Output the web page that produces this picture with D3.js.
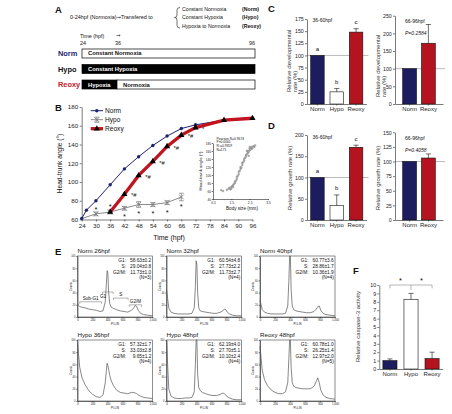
<!DOCTYPE html>
<html>
<head>
<meta charset="utf-8">
<script src="https://cdn.jsdelivr.net/npm/d3@7"></script>
<style>
  body { margin: 0; background: #fff; }
  svg { display: block; }
</style>
</head>
<body>
<svg id="fig" width="452" height="414"></svg>
<script>
// groups and colours
const groups = ["Norm", "Hypo", "Reoxy"]
const barFill = { Norm: "#1c1c5e", Hypo: "#ffffff", Reoxy: "#b3141f" }
const nameFill = { Norm: "#22266e", Hypo: "#111111", Reoxy: "#c3202b" }

// A - exposure schedule
const transferTo = ["Constant Normoxia", "Constant Hypoxia", "Hypoxia to Normoxia"]
const scheduleTicks = [24, 36, 96]
const scheduleRows = ["Norm", "Hypo", "Reoxy", "Reoxy"]
const scheduleFrom = [24, 24, 24, 36]
const scheduleTo = [96, 96, 36, 96]
const scheduleText = ["Constant Normoxia", "Constant  Hypoxia", "Hypoxia", "Normoxia"]
const scheduleHypoxic = [false, true, true, false]

// B - head-trunk angle (deg) vs time (hpf)
const hpfTicks = [24, 30, 36, 42, 48, 54, 60, 66, 72, 78, 84, 90, 96]
const angleTicks = [60, 80, 100, 120, 140, 160, 180]
const normHpf = [24, 26, 30, 36, 42, 48, 54, 60, 66, 72, 84, 96]
const normAngle = [61, 70, 80, 97, 114, 127, 139, 149, 157, 161, 166, 168]
const hypoHpf = [24, 30, 36, 42, 48, 54, 60, 66]
const hypoAngle = [61, 66, 68, 72, 76, 76, 78, 84]
const hypoSem = [0, 2, 2, 2, 3, 2, 2, 4]
const reoxyHpf = [36, 42, 48, 54, 60, 66, 72, 84, 96]
const reoxyAngle = [68, 87, 107, 122, 138, 150, 158, 166, 168]
const reoxySig = ["", "*#", "*#", "*#", "*#", "*#", "*", "", ""]
const hypoStarHpf = [30, 36, 42, 48, 54, 60, 66]
const hypoStarAngle = [72, 75, 64, 68, 68, 69, 75]

// B inset - angle vs body size
const sizeTicks = [0.5, 1.5, 2.5, 3.5]
const insetAngleTicks = [40, 60, 80, 100, 120, 140, 160, 180]
const bodySize = [0.95, 1.05, 1.25, 1.35, 1.4, 1.45, 1.5, 1.5, 1.55, 1.6, 1.6, 1.65, 1.7, 1.7, 1.75, 1.8, 1.8, 1.85, 1.9, 1.9, 1.95, 2.0, 2.0, 2.05, 2.1, 2.1, 2.15, 2.2, 2.2, 2.25, 2.3, 2.3, 2.35, 2.4, 2.4, 2.45, 2.5, 2.5, 2.55, 2.6, 2.6, 2.65, 2.7, 2.75, 2.8, 2.5, 2.35, 2.45]
const bodyAngle = [62, 60, 63, 66, 68, 64, 70, 66, 72, 75, 70, 78, 80, 84, 86, 90, 95, 98, 102, 108, 110, 115, 120, 118, 125, 130, 132, 136, 140, 143, 146, 150, 152, 155, 160, 158, 162, 166, 164, 168, 170, 166, 172, 170, 174, 170, 160, 148]
const corrText = ["Pearson R=0.9674", "P<0.0001", "R\u00b2=0.9359", "N=171"]

// C - relative developmental rate (%)
const devEarly = [100, 25, 148]
const devEarlyErr = [0, 7, 7]
const devLate = [100, 172]
const devLateErr = [0, 53]
const devEarlyTicks = [0, 25, 50, 75, 100, 125, 150, 175]
const devLateTicks = [0, 50, 100, 150, 200, 250]

// D - relative growth rate (%)
const growthEarly = [100, 34, 171]
const growthEarlyErr = [0, 25, 5]
const growthLate = [100, 106]
const growthLateErr = [0, 7]
const growthEarlyTicks = [0, 50, 100, 150, 200]
const growthLateTicks = [0, 25, 50, 75, 100, 125, 150]
const sigLetters = ["a", "b", "c"]

// E - cell cycle histograms
const piLin = [0, 15, 30, 60, 100, 150, 200, 250, 300, 340, 370, 385, 395, 405, 415, 430, 450, 480, 520, 570, 620, 670, 720, 750, 770, 790, 810, 840, 880, 930, 1000]
const piTicks = [0, 200, 400, 600, 800, 1000]
const countTicks = [0, 20, 40, 60, 80, 100]
const countsNorm26 = [22, 19, 17, 16, 15, 13, 12, 11, 9, 10, 25, 55, 76, 72, 40, 22, 16, 14, 12, 10, 9, 8, 11, 15, 19, 17, 11, 6, 4, 3, 2]
const countsNorm32 = [45, 30, 15, 8, 6, 5, 5, 5, 5, 6, 15, 50, 92, 86, 40, 15, 10, 9, 8, 7, 6, 6, 8, 10, 13, 12, 8, 5, 3, 2, 2]
const countsNorm40 = [28, 20, 12, 8, 6, 5, 5, 5, 5, 6, 18, 60, 115, 108, 45, 18, 12, 10, 9, 8, 7, 7, 9, 13, 17, 18, 11, 6, 4, 3, 2]
const countsHypo36 = [95, 75, 55, 38, 27, 17, 11, 7, 6, 10, 30, 50, 62, 58, 52, 42, 33, 25, 18, 14, 13, 12, 14, 14, 13, 12, 10, 8, 6, 5, 4]
const countsHypo48 = [110, 60, 20, 8, 5, 4, 4, 5, 5, 6, 15, 60, 115, 100, 45, 22, 17, 14, 12, 10, 9, 9, 11, 13, 12, 10, 7, 5, 3, 2, 2]
const countsReoxy48 = [90, 70, 50, 35, 25, 18, 14, 12, 12, 15, 30, 70, 115, 105, 55, 30, 24, 22, 21, 20, 20, 20, 24, 32, 38, 30, 18, 10, 6, 4, 3]
const cycleCounts = [countsNorm26, countsNorm32, countsNorm40, countsHypo36, countsHypo48, countsReoxy48]
const cycleTitle = ["Norm 26hpf", "Norm 32hpf", "Norm 40hpf", "Hypo 36hpf", "Hypo 48hpf", "Reoxy 48hpf"]
const cycleG1 = ["58.63\u00b10.2", "60.54\u00b14.8", "60.77\u00b13.6", "57.32\u00b11.7", "62.19\u00b14.0", "60.78\u00b11.0"]
const cycleS = ["29.04\u00b10.8", "27.73\u00b12.2", "28.86\u00b11.7", "33.03\u00b12.8", "27.70\u00b15.1", "26.25\u00b11.4"]
const cycleG2M = ["11.73\u00b11.0", "11.73\u00b12.7", "10.36\u00b11.9", "9.65\u00b11.2", "10.10\u00b12.4", "12.97\u00b12.0"]
const cycleN = ["(N=3)", "(N=4)", "(N=4)", "(N=4)", "(N=4)", "(N=5)"]
const phaseNames = ["Sub-G1", "G1", "S", "G2/M"]
const phaseFrom = [30, 335, 480, 690]
const phaseTo = [320, 475, 675, 855]
const phaseLevel = [25, 41, 31, 20]

// F - caspase-3 activity
const caspase = [1.0, 8.3, 1.25]
const caspaseErr = [0.2, 0.7, 0.75]
const caspaseTicks = [0, 1, 2, 3, 4, 5, 6, 7, 8, 9, 10]

const FONT = "'Liberation Sans', Arial, Helvetica, sans-serif"
const svg = d3.select("#fig").attr("font-family", FONT)
svg.append("rect").attr("width", 452).attr("height", 414).attr("fill", "#fff")

function txt(g, x, y, s, size, o) {
  o = o || {}
  var t = g.append("text").attr("x", x).attr("y", y).text(s)
    .attr("font-size", size).attr("fill", o.fill || "#111")
  if (o.anchor) t.attr("text-anchor", o.anchor)
  if (o.bold) t.attr("font-weight", "bold")
  if (o.italic) t.attr("font-style", "italic")
  if (o.rotate) t.attr("transform", "rotate(-90," + x + "," + y + ")")
  return t
}

function tidy(ax, size) {
  ax.attr("font-family", FONT).attr("font-size", size)
  ax.selectAll("path, line").attr("stroke", "#222").attr("stroke-width", 0.6)
  ax.selectAll("text").attr("fill", "#222")
  return ax
}

// panel letters
txt(svg, 55, 12.5, "A", 9.5, { bold: true })
txt(svg, 55, 111, "B", 9.5, { bold: true })
txt(svg, 268, 11.5, "C", 9.5, { bold: true })
txt(svg, 268, 128.5, "D", 9.5, { bold: true })
txt(svg, 55, 255, "E", 9.5, { bold: true })
txt(svg, 353, 273.5, "F", 9.5, { bold: true })

// ---------- A ----------
var gA = svg.append("g")
var intro = txt(gA, 70, 19, "0-24hpf (Normoxia)", 5.4)
intro.append("tspan").attr("font-family", "DejaVu Sans").text("\u2192")
intro.append("tspan").text("Transfered to")
gA.append("path")
  .attr("d", "M180,7.5 Q177,7.5 177,10 L177,15 Q177,17.5 174.5,17.5 Q177,17.5 177,20 L177,25.5 Q177,28 180,28")
  .attr("fill", "none").attr("stroke", "#111").attr("stroke-width", 0.6)
var yTo = d3.scalePoint().domain(transferTo).range([11, 27.5])
transferTo.forEach(function (s, i) {
  txt(gA, 182, yTo(s), s, 5.2)
  txt(gA, 242, yTo(s), "(" + groups[i] + ")", 5.2, { bold: true })
})
var xT = d3.scaleLinear().domain(scheduleTicks).range([82, 117, 255])
var yT = d3.scaleBand().domain(groups).range([49, 89]).paddingInner(0.42)
txt(gA, 80, 37.5, "Time (hpf)", 5.4)
txt(gA, 116, 37, "\u2192", 5.4).attr("font-family", "DejaVu Sans")
scheduleTicks.forEach(function (t, i) {
  txt(gA, xT(t) - (i < 2 ? 2 : 0), 45, t, 5.4, { anchor: i < 2 ? "start" : "end" })
})
groups.forEach(function (gr) {
  txt(gA, 58, yT(gr) + yT.bandwidth() / 2 + 2.6, gr, 7.4, { bold: true, fill: nameFill[gr] })
})
scheduleRows.forEach(function (gr, i) {
  gA.append("rect")
    .attr("x", xT(scheduleFrom[i])).attr("y", yT(gr))
    .attr("width", xT(scheduleTo[i]) - xT(scheduleFrom[i])).attr("height", yT.bandwidth())
    .attr("fill", scheduleHypoxic[i] ? "#000" : "#fff").attr("stroke", "#000").attr("stroke-width", 0.7)
  txt(gA, xT(scheduleFrom[i]) + 6, yT(gr) + yT.bandwidth() / 2 + 2, scheduleText[i], 5.8,
    { bold: true, fill: scheduleHypoxic[i] ? "#fff" : "#111" })
})

// ---------- B ----------
var gB = svg.append("g")
var xB = d3.scaleLinear().domain([24, 96]).range([81.7, 252.5])
var yB = d3.scaleLinear().domain([60, 180]).range([219.5, 107])
tidy(gB.append("g").attr("transform", "translate(0,219.5)")
  .call(d3.axisBottom(xB).tickValues(hpfTicks).tickSize(2).tickSizeOuter(0).tickPadding(2.5)), 6.2)
tidy(gB.append("g").attr("transform", "translate(81.7,0)")
  .call(d3.axisLeft(yB).tickValues(angleTicks).tickSize(2).tickSizeOuter(0).tickPadding(1.5)), 6.2)
txt(gB, 169, 239.5, "Time (hpf)", 7, { anchor: "middle" })
txt(gB, 62, 163.5, "Head-trunk angle (\u00b0)", 6.6, { anchor: "middle", rotate: true })

var lineB = d3.line().x(d => xB(d[0])).y(d => yB(d[1]))
var hypoPts = d3.zip(hypoHpf, hypoAngle, hypoSem)
var normPts = d3.zip(normHpf, normAngle)
var reoxyPts = d3.zip(reoxyHpf, reoxyAngle, reoxySig)

function hypoMark(g, cx, cy, up, dn) {
  var s = 2.4
  g.append("path").attr("d", "M" + (cx - s) + "," + (cy - s) + "L" + (cx + s) + "," + (cy + s) + "M" + (cx - s) + "," + (cy + s) + "L" + (cx + s) + "," + (cy - s))
    .attr("stroke", "#777").attr("stroke-width", 0.8).attr("fill", "none")
  g.append("path").attr("d", "M" + cx + "," + up + "L" + cx + "," + dn + "M" + (cx - 2.4) + "," + up + "L" + (cx + 2.4) + "," + up + "M" + (cx - 2.4) + "," + dn + "L" + (cx + 2.4) + "," + dn)
    .attr("stroke", "#777").attr("stroke-width", 0.7).attr("fill", "none")
}

gB.append("path").datum(hypoPts).attr("d", lineB).attr("fill", "none").attr("stroke", "#8a8a8a").attr("stroke-width", 1)
hypoPts.forEach(function (d) {
  if (d[2] > 0) hypoMark(gB, xB(d[0]), yB(d[1]), yB(d[1] + d[2]), yB(d[1] - d[2]))
})
gB.append("path").datum(normPts).attr("d", lineB).attr("fill", "none").attr("stroke", "#1f2270").attr("stroke-width", 1)
gB.selectAll(".nd").data(normPts).join("circle")
  .attr("cx", d => xB(d[0])).attr("cy", d => yB(d[1])).attr("r", 1.7).attr("fill", "#1f2270")
gB.append("path").datum(reoxyPts).attr("d", lineB).attr("fill", "none").attr("stroke", "#c0141f").attr("stroke-width", 3.3)
var tri = d3.symbol().type(d3.symbolTriangle).size(16)
gB.selectAll(".rd").data(reoxyPts).join("path")
  .attr("d", tri).attr("transform", d => "translate(" + xB(d[0]) + "," + yB(d[1]) + ")").attr("fill", "#000")
reoxyPts.forEach(function (d) {
  if (d[2]) txt(gB, xB(d[0]) + 6.5, yB(d[1]) + 3.2, d[2], 5.8)
})
d3.zip(hypoStarHpf, hypoStarAngle).forEach(function (d) {
  txt(gB, xB(d[0]), yB(d[1]) + 3.6, "*", 7.5, { anchor: "middle" })
})

// legend
var yLeg = d3.scalePoint().domain(groups).range([110.7, 128.7])
gB.append("line").attr("x1", 90.7).attr("x2", 103).attr("y1", yLeg("Norm")).attr("y2", yLeg("Norm")).attr("stroke", "#1f2270").attr("stroke-width", 1)
gB.append("circle").attr("cx", 96.8).attr("cy", yLeg("Norm")).attr("r", 1.7).attr("fill", "#1f2270")
gB.append("line").attr("x1", 90.7).attr("x2", 103).attr("y1", yLeg("Hypo")).attr("y2", yLeg("Hypo")).attr("stroke", "#8a8a8a").attr("stroke-width", 1)
hypoMark(gB, 96.8, yLeg("Hypo"), yLeg("Hypo") - 2.6, yLeg("Hypo") + 2.6)
gB.append("line").attr("x1", 90.7).attr("x2", 103).attr("y1", yLeg("Reoxy")).attr("y2", yLeg("Reoxy")).attr("stroke", "#c0141f").attr("stroke-width", 3.3)
gB.append("path").attr("d", tri).attr("transform", "translate(96.8," + yLeg("Reoxy") + ")").attr("fill", "#000")
groups.forEach(function (gr) { txt(gB, 105, yLeg(gr) + 2.3, gr, 6.6) })

// inset
var gI = svg.append("g")
var xI = d3.scaleLinear().domain([0.5, 3.5]).range([213, 268])
var yI = d3.scaleLinear().domain([40, 180]).range([199, 143])
tidy(gI.append("g").attr("transform", "translate(0,199)")
  .call(d3.axisBottom(xI).tickValues(sizeTicks).tickFormat(d3.format(".1f")).tickSize(1.2).tickSizeOuter(0).tickPadding(1)), 3.4)
tidy(gI.append("g").attr("transform", "translate(213,0)")
  .call(d3.axisLeft(yI).tickValues(insetAngleTicks).tickSize(1.2).tickSizeOuter(0).tickPadding(0.8)), 3.2)
gI.selectAll(".sc").data(d3.zip(bodySize, bodyAngle)).join("circle")
  .attr("cx", d => xI(d[0])).attr("cy", d => yI(d[1])).attr("r", 0.9)
  .attr("fill", "#bdbdbd").attr("stroke", "#555").attr("stroke-width", 0.3)
txt(gI, 201.5, 171, "Head-trunk angle (\u00b0)", 4.3, { anchor: "middle", rotate: true })
txt(gI, 242, 210, "Body size (mm)", 4.6, { anchor: "middle" })
corrText.forEach(function (s, i) { txt(gI, 216.5, 139.5 + i * 3.7, s, 3.3) })

// ---------- bar panels (C, D, F) ----------
function barPanel(o) {
  var g = svg.append("g")
  var x = d3.scaleBand().domain(o.cats).range([o.x0, o.x1]).paddingInner(o.pi).paddingOuter(o.po)
  var y = d3.scaleLinear().domain([0, o.max]).range([o.y0, o.y1])
  if (o.ref != null) {
    g.append("line").attr("x1", o.x0).attr("x2", o.x1 + 2).attr("y1", y(o.ref)).attr("y2", y(o.ref))
      .attr("stroke", "#8c8c8c").attr("stroke-width", 0.6)
  }
  g.selectAll(".bar").data(o.cats).join("rect")
    .attr("x", d => x(d)).attr("width", x.bandwidth())
    .attr("y", (d, i) => y(o.vals[i])).attr("height", (d, i) => o.y0 - y(o.vals[i]))
    .attr("fill", d => barFill[d]).attr("stroke", "#111").attr("stroke-width", 0.6)
  o.cats.forEach(function (c, i) {
    if (!o.errs[i]) return
    var cx = x(c) + x.bandwidth() / 2
    var top = y(o.vals[i] + o.errs[i])
    g.append("path").attr("d", "M" + cx + "," + y(o.vals[i]) + "L" + cx + "," + top + "M" + (cx - 2.6) + "," + top + "L" + (cx + 2.6) + "," + top)
      .attr("stroke", "#111").attr("stroke-width", 0.6).attr("fill", "none")
  })
  if (o.letters) {
    o.cats.forEach(function (c, i) {
      txt(g, x(c) + x.bandwidth() / 2, y(o.vals[i] + o.errs[i]) - 4.5, o.letters[i], 6, { anchor: "middle" })
    })
  }
  tidy(g.append("g").attr("transform", "translate(" + o.x0 + ",0)")
    .call(d3.axisLeft(y).tickValues(o.ticks).tickSize(2).tickSizeOuter(0).tickPadding(1.2)), 5.3)
  tidy(g.append("g").attr("transform", "translate(0," + o.y0 + ")")
    .call(d3.axisBottom(x).tickSize(1.5).tickSizeOuter(0).tickPadding(1.5)), 6)
  return { g: g, x: x, y: y }
}

var c1 = barPanel({ cats: groups, vals: devEarly, errs: devEarlyErr, letters: sigLetters, ticks: devEarlyTicks,
  max: 175, x0: 307, x1: 366.5, pi: 0.3, po: 0.19, y0: 104, y1: 19, ref: 100 })
txt(c1.g, 312.5, 22, "36-60hpf", 5)
txt(c1.g, 290.5, 92, "Relative developmental", 6, { rotate: true, fill: "#333" })
txt(c1.g, 297, 92, "rate (%)", 6, { rotate: true, fill: "#333" })

var c2 = barPanel({ cats: ["Norm", "Reoxy"], vals: devLate, errs: devLateErr, ticks: devLateTicks,
  max: 250, x0: 395, x1: 443, pi: 0.26, po: 0.41, y0: 104, y1: 15.7, ref: 100 })
txt(c2.g, 405, 22.5, "66-96hpf", 5)
txt(c2.g, 405, 35, "P=0.2584", 5, { italic: true })
txt(c2.g, 379.5, 97, "Relative developmental", 6, { rotate: true, fill: "#333" })
txt(c2.g, 386, 97, "rate (%)", 6, { rotate: true, fill: "#333" })

var d1 = barPanel({ cats: groups, vals: growthEarly, errs: growthEarlyErr, letters: sigLetters, ticks: growthEarlyTicks,
  max: 200, x0: 307, x1: 366.5, pi: 0.3, po: 0.19, y0: 220, y1: 135, ref: 100 })
txt(d1.g, 312.5, 138.5, "36-60hpf", 5)
txt(d1.g, 292, 178, "Relative growth rate (%)", 6, { anchor: "middle", rotate: true, fill: "#333" })

var d2 = barPanel({ cats: ["Norm", "Reoxy"], vals: growthLate, errs: growthLateErr, ticks: growthLateTicks,
  max: 150, x0: 395, x1: 443, pi: 0.26, po: 0.41, y0: 220, y1: 132.3, ref: 100 })
txt(d2.g, 405, 140, "66-96hpf", 5)
txt(d2.g, 405, 152, "P=0.4058", 5, { italic: true })
txt(d2.g, 380, 178, "Relative growth rate (%)", 6, { anchor: "middle", rotate: true, fill: "#333" })

var f = barPanel({ cats: groups, vals: caspase, errs: caspaseErr, ticks: caspaseTicks,
  max: 10, x0: 379.3, x1: 442.7, pi: 0.33, po: 0.17, y0: 369, y1: 285 })
txt(f.g, 360, 326.5, "Relative caspase-3 activity", 6, { anchor: "middle", rotate: true, fill: "#333" })
var fc = groups.map(g => f.x(g) + f.x.bandwidth() / 2)
f.g.append("path")
  .attr("d", "M" + fc[0] + "," + f.y(9.6) + "L" + fc[0] + "," + f.y(10) + "L" + fc[2] + "," + f.y(10) + "L" + fc[2] + "," + f.y(9.6) +
    "M" + fc[1] + "," + f.y(10) + "L" + fc[1] + "," + f.y(9.4))
  .attr("stroke", "#888").attr("stroke-width", 0.6).attr("fill", "none")
txt(f.g, (fc[0] + fc[1]) / 2, f.y(10) - 2.5, "*", 7.5, { anchor: "middle" })
txt(f.g, (fc[1] + fc[2]) / 2, f.y(10) - 2.5, "*", 7.5, { anchor: "middle" })

// ---------- E ----------
var colX = [77.5, 166.5, 260]
var rowY = [256, 340]
function cyclePanel(k) {
  var x0 = colX[k % 3], y0 = rowY[Math.floor(k / 3)]
  var w = 75, h = 61
  var g = svg.append("g")
  var x = d3.scaleLinear().domain([0, 1000]).range([x0, x0 + w])
  var y = d3.scaleLinear().domain([0, 100]).range([y0 + h, y0]).clamp(true)
  g.append("rect").attr("x", x0).attr("y", y0).attr("width", w).attr("height", h)
    .attr("fill", "none").attr("stroke", "#444").attr("stroke-width", 0.6)
  tidy(g.append("g").attr("transform", "translate(0," + (y0 + h) + ")")
    .call(d3.axisBottom(x).tickValues(piTicks).tickSize(1.2).tickSizeOuter(0).tickPadding(0.8)), 2.8)
  tidy(g.append("g").attr("transform", "translate(" + x0 + ",0)")
    .call(d3.axisLeft(y).tickValues(countTicks).tickSize(1.2).tickSizeOuter(0).tickPadding(0.8)), 2.6)
  txt(g, x0 + w / 2, y0 + h + 7.5, "PI-LIN", 2.8, { anchor: "middle" })
  txt(g, x0 - 6, y0 + h / 2, "Counts", 2.8, { anchor: "middle", rotate: true })
  var line = d3.line().x((d, i) => x(piLin[i])).y(d => y(d))
  g.append("path").datum(cycleCounts[k]).attr("d", line)
    .attr("fill", "none").attr("stroke", "#555").attr("stroke-width", 0.7)
  txt(g, x0, y0 - 2.7, cycleTitle[k], 6.2)
  var rows = [["G1:", cycleG1[k]], ["S:", cycleS[k]], ["G2/M:", cycleG2M[k]], ["", cycleN[k]]]
  rows.forEach(function (r, i) {
    var yy = y0 + 6.3 + i * 5.7
    if (r[0]) txt(g, x0 + 48.5, yy, r[0], 4.8, { anchor: "end" })
    txt(g, x0 + w - 1.2, yy, r[1], 4.8, { anchor: "end" })
  })
  if (k === 0) {
    phaseNames.forEach(function (p, i) {
      var a = x(phaseFrom[i]), b = x(phaseTo[i]), yy = y(phaseLevel[i])
      g.append("path").attr("d", "M" + a + "," + (yy + 2) + "L" + a + "," + yy + "L" + b + "," + yy + "L" + b + "," + (yy + 2))
        .attr("stroke", "#666").attr("stroke-width", 0.5).attr("fill", "none")
      if (p === "G1") txt(g, a + 0.5, yy + 6.5, p, 4.6, { anchor: "middle" })
      else txt(g, (a + b) / 2, yy - 1.8, p, 4.6, { anchor: "middle" })
    })
  }
}
cycleTitle.forEach(function (t, k) { cyclePanel(k) })
</script>
</body>
</html>
